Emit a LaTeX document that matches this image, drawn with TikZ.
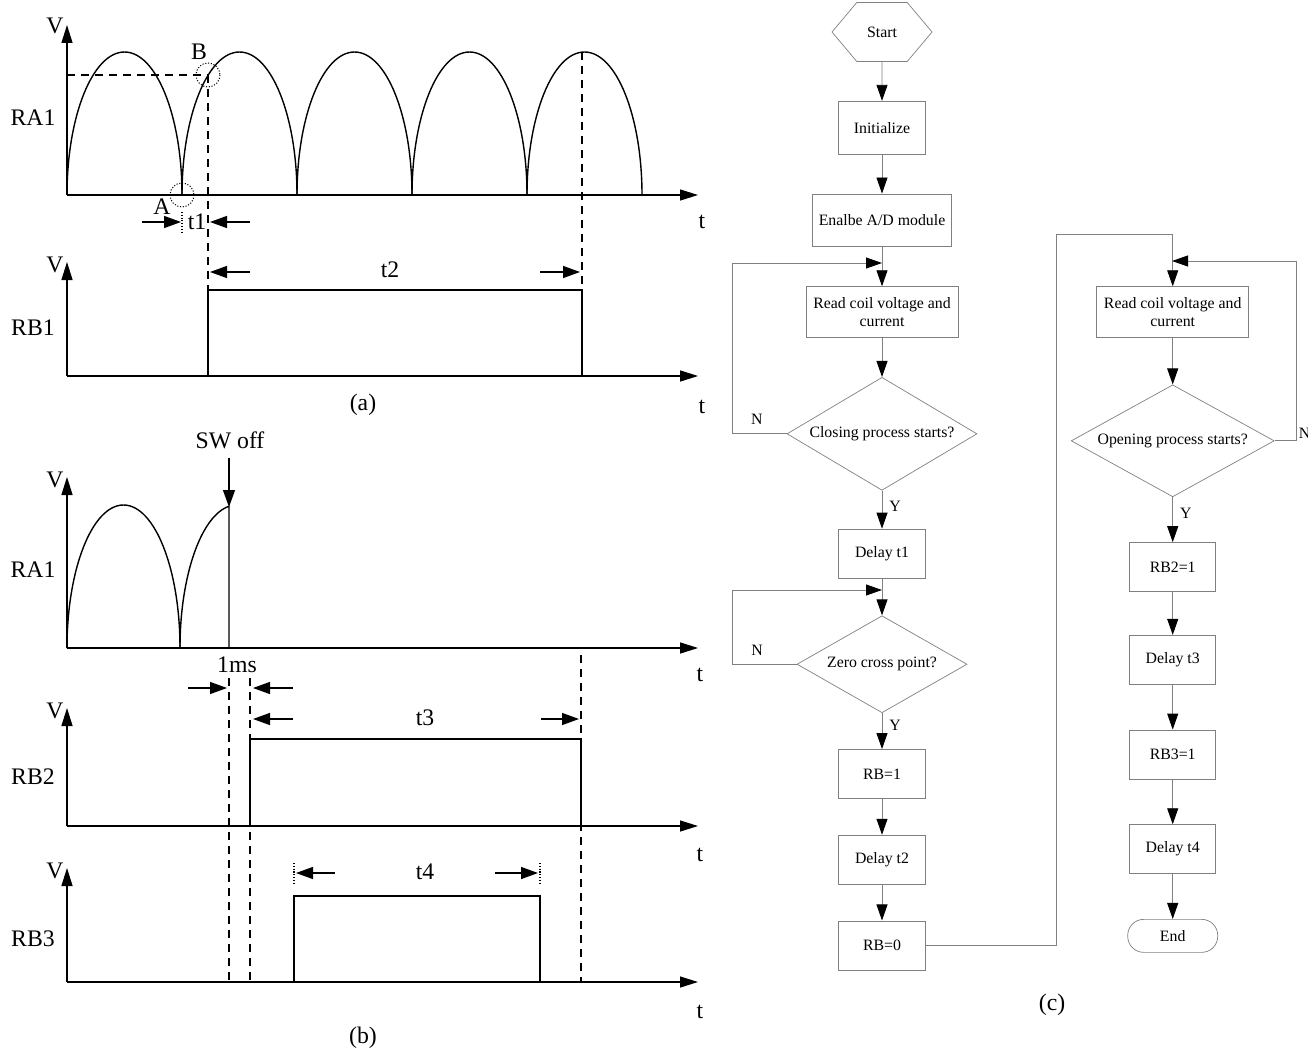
\documentclass[tikz,border=0pt]{standalone}
\usepackage{fontspec}
\setmainfont{Liberation Serif}
\usetikzlibrary{arrows.meta, positioning, shapes.geometric, shapes.symbols}
\tikzset{
  box/.style={rectangle, draw=gray, align=center, inner sep=2pt, minimum width=17.4mm, minimum height=9.8mm, font=\fontsize{9}{10.5}\selectfont},
  decision/.style={diamond, draw=gray, aspect=1.7, inner sep=0pt, align=center, font=\fontsize{9}{10.5}\selectfont},
  terminal/.style={rectangle, draw=gray, rounded corners=3.2mm, minimum width=18mm, minimum height=6.6mm, font=\fontsize{9}{10.5}\selectfont},
  hexa/.style={signal, signal to=east and west, signal pointer angle=100, draw=gray, minimum width=20mm, minimum height=11.8mm, font=\fontsize{9}{10.5}\selectfont},
  flow/.style={draw=gray, line width=0.5pt, -{Triangle[length=3.2mm, width=2.2mm, color=black]}},
  yn/.style={font=\fontsize{9}{10.5}\selectfont, inner sep=1pt},
  wave/.style={line width=0.8pt},
  axis/.style={line width=0.8pt, -{Triangle[length=3.6mm, width=2.2mm]}},
  dim/.style={line width=0.8pt, -{Triangle[length=3.4mm, width=2.4mm]}},
  guide/.style={line width=0.8pt, dash pattern=on 1.6mm off 1.2mm},
  ring/.style={line width=0.6pt, densely dotted},
  txt/.style={font=\fontsize{13.5}{16}\selectfont, inner sep=0pt}
}

\begin{document}
\begin{tikzpicture}[x=0.2mm, y=-0.2mm, node distance=7.8mm]
  \useasboundingbox (0,0) rectangle (1308,1055);

  % (a) closing
  \draw[axis] (67,195) -- (67,25);
  \draw[axis] (67,195) -- (698,195);
  \foreach \k in {0,...,4}
    \draw[wave] (67+115*\k,195) arc[start angle=180, end angle=360, x radius=57.5, y radius=143];
  \draw[guide] (67,75) -- (208,75);
  \draw[guide] (208,75) -- (208,290);
  \draw[guide] (582,52) -- (582,290);
  \draw[ring] (208,75) circle[radius=12];
  \draw[ring] (182,195) circle[radius=12];
  \node[txt] (pa) at (162,207) {A};
  \node[txt] (pb) at (199,52) {B};
  \draw[dim] (142,222) -- (181,222);
  \draw[dim] (250,222) -- (210,222);
  \draw[ring] (182,212) -- (182,234);
  \node[txt] (t1) at (197,222) {t1};
  \node[txt] (va1) at (55,26) {V};
  \node[txt] (ra1) at (33,118) {RA1};
  \node[txt] (ta1) at (702,222) {t};

  \draw[axis] (67,376) -- (67,262);
  \draw[axis] (67,376) -- (698,376);
  \draw[wave] (208,376) -- (208,290) -- (582,290) -- (582,376);
  \draw[dim] (250,272) -- (210,272);
  \draw[dim] (540,272) -- (580,272);
  \node[txt] (t2) at (390,270) {t2};
  \node[txt] (vb1) at (55,265) {V};
  \node[txt] (rb1) at (33,328) {RB1};
  \node[txt] (tb1) at (702,407) {t};
  \node[txt] (capa) at (363,405) {(a)};

  % (b) opening
  \draw[axis] (67,648) -- (67,477);
  \draw[axis] (67,648) -- (698,648);
  \draw[wave] (67,648) arc[start angle=180, end angle=360, x radius=56.5, y radius=143];
  \draw[wave] (180,648) arc[start angle=180, end angle=262.4, x radius=56.5, y radius=143] -- (229,648);
  \draw[dim] (229,458) -- (229,507);
  \node[txt] (sw) at (230,440) {SW off};
  \node[txt] (va2) at (55,480) {V};
  \node[txt] (ra2) at (33,570) {RA1};
  \node[txt] (ta2) at (700,675) {t};
  \node[txt] (ms) at (237,665) {1ms};
  \draw[dim] (188,688) -- (227,688);
  \draw[dim] (293,688) -- (253,688);
  \draw[guide] (229,678) -- (229,982);
  \draw[guide] (250,678) -- (250,982);
  \draw[guide] (581,655) -- (581,982);

  \draw[axis] (67,826) -- (67,708);
  \draw[axis] (67,826) -- (698,826);
  \draw[wave] (250,826) -- (250,739) -- (581,739) -- (581,826);
  \draw[dim] (293,719) -- (253,719);
  \draw[dim] (541,719) -- (579,719);
  \node[txt] (t3) at (425,718) {t3};
  \node[txt] (vb2) at (55,711) {V};
  \node[txt] (rb2l) at (33,777) {RB2};
  \node[txt] (tb2) at (700,855) {t};

  \draw[axis] (67,982) -- (67,868);
  \draw[axis] (67,982) -- (698,982);
  \draw[wave] (294,982) -- (294,896) -- (540,896) -- (540,982);
  \draw[dim] (335,873) -- (296,873);
  \draw[dim] (495,873) -- (538,873);
  \draw[ring] (294,863) -- (294,883);
  \draw[ring] (540,863) -- (540,883);
  \node[txt] (t4) at (425,872) {t4};
  \node[txt] (vb3) at (55,871) {V};
  \node[txt] (rb3l) at (33,939) {RB3};
  \node[txt] (tb3) at (700,1012) {t};
  \node[txt] (capb) at (363,1038) {(b)};

  % (c) flow chart
  \node[hexa] (start) at (882,32) {Start};
  \node[box, minimum height=10.6mm, below=of start] (init) {Initialize};
  \node[box, minimum width=27.8mm, minimum height=10.4mm, below=of init] (enable) {Enalbe A/D module};
  \node[box, minimum width=30.4mm, minimum height=10.2mm, below=8mm of enable] (read1) {Read coil voltage and\\current};
  \node[decision, minimum width=38mm, minimum height=22.6mm, below=7.8mm of read1] (close) {Closing process starts?};
  \node[box, below=7.6mm of close] (delay1) {Delay t1};
  \node[decision, minimum width=34mm, minimum height=19.4mm, below=7.4mm of delay1] (zero) {Zero cross point?};
  \node[box, below=7.2mm of zero] (rbone) {RB=1};
  \node[box, below=7.2mm of rbone] (delay2) {Delay t2};
  \node[box, below=7.2mm of delay2] (rbzero) {RB=0};

  \node[box, minimum width=30.4mm, minimum height=10.2mm, right=27.6mm of read1] (read2) {Read coil voltage and\\current};
  \node[decision, minimum width=40.6mm, minimum height=22.4mm, below=9.3mm of read2] (open) {Opening process starts?};
  \node[box, minimum width=17.2mm, below=9mm of open] (rbtwo) {RB2=1};
  \node[box, minimum width=17.2mm, below=8.6mm of rbtwo] (delay3) {Delay t3};
  \node[box, minimum width=17.2mm, below=9mm of delay3] (rbthree) {RB3=1};
  \node[box, minimum width=17.2mm, below=9mm of rbthree] (delay4) {Delay t4};
  \node[terminal, below=9mm of delay4] (stop) {End};

  \coordinate (j1) at (882,263);
  \coordinate (j2) at (882,590);
  \coordinate (up) at (1056,234);
  \coordinate (j4) at (1172,261);

  \draw[flow] (start) -- (init);
  \draw[flow] (init) -- (enable);
  \draw[flow] (enable) -- (read1);
  \draw[flow] (read1) -- (close);
  \draw[flow] (close) -- node[yn, pos=0.4, right=3pt] {Y} (delay1);
  \draw[flow] (delay1) -- (zero);
  \draw[flow] (zero) -- node[yn, pos=0.35, right=3pt] {Y} (rbone);
  \draw[flow] (rbone) -- (delay2);
  \draw[flow] (delay2) -- (rbzero);
  \draw[flow] (close.west) -- node[yn, above=4pt, pos=0.55] {N} ++(-54,0) |- (j1);
  \draw[flow] (zero.west) -- node[yn, above=4pt, pos=0.62] {N} ++(-64,0) |- (j2);
  \draw[flow] (rbzero.east) -| (up) -| (read2.north);
  \draw[flow] (read2) -- (open);
  \draw[flow] (open) -- node[yn, pos=0.35, right=3pt] {Y} (rbtwo);
  \draw[flow] (rbtwo) -- (delay3);
  \draw[flow] (delay3) -- (rbthree);
  \draw[flow] (rbthree) -- (delay4);
  \draw[flow] (delay4) -- (stop);
  \draw[flow] (open.east) -- ++(22,0) node[yn, anchor=south west] {N} |- (j4);
  \node[txt] (capc) at (1052,1005) {(c)};
\end{tikzpicture}
\end{document}
